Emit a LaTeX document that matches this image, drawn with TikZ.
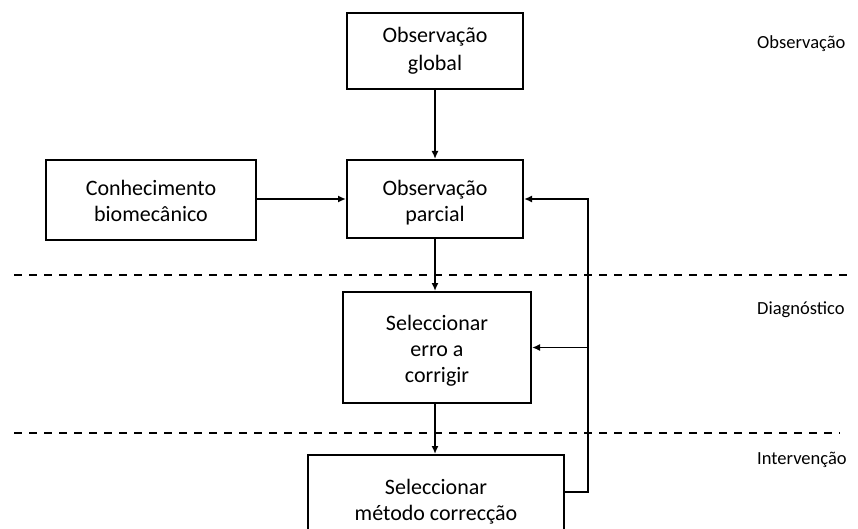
\documentclass[tikz,border=0pt]{standalone}
\usepackage{fontspec}
\setmainfont{Carlito}
\usetikzlibrary{arrows.meta}
\begin{document}
\begin{tikzpicture}[x=1pt,y=-1pt,
 box/.style={draw, line width=2pt, align=center, font=\fontsize{22}{26}\selectfont, inner sep=0pt},
 arr/.style={line width=1.8pt, -{Latex[length=8pt,width=7pt]}},
 sepline/.style={line width=2pt, dash pattern=on 8pt off 7pt},
 lab/.style={anchor=west, inner sep=0pt, font=\fontsize{18.5}{22}\selectfont}]
\useasboundingbox (0,0) rectangle (858,529);
\begin{scope}
\clip (0,0) rectangle (858,529);
\node[box, minimum width=176pt, minimum height=76pt] (glob) at (435,51) {Observação\\[2pt]global};
\node[box, minimum width=176pt, minimum height=78pt] (parc) at (435,199) {\rule{0pt}{22pt}Observação\\parcial};
\node[box, minimum width=210pt, minimum height=80pt] (conh) at (151,200) {\rule{0pt}{18pt}Conhecimento\\biomecânico};
\node[box, minimum width=188pt, minimum height=111pt] (erro) at (437,347.5) {\rule{0pt}{22pt}Seleccionar\\erro a\\corrigir};
\node[box, minimum width=256pt, minimum height=89pt] (meto) at (436,499.5) {\rule{0pt}{20pt}Seleccionar\\método correcção};

\draw[sepline] (14,275) coordinate (d1a) -- (848,275) coordinate (d1b);
\draw[sepline] (14,433) coordinate (d2a) -- (840,433) coordinate (d2b);

\node[lab] (lobs) at (757,44) {Observação};
\node[lab] (ldia) at (757,310) {Diagnóstico};
\node[lab] (lint) at (757,460) {Intervenção};

\draw[arr] (glob.south) -- (glob.south |- parc.north);
\draw[arr] (conh.east |- parc.west) -- (parc.west);
\draw[arr] (parc.south) -- (parc.south |- erro.north);
\draw[arr] (erro.south -| parc.south) -- (parc.south |- meto.north);
\coordinate (r) at (588,492);
\draw[arr] (meto.east |- r) -- (r) -- (r |- parc.east) -- (parc.east);
\draw[arr] (r |- erro.east) -- (erro.east);
\end{scope}
\end{tikzpicture}
\end{document}
